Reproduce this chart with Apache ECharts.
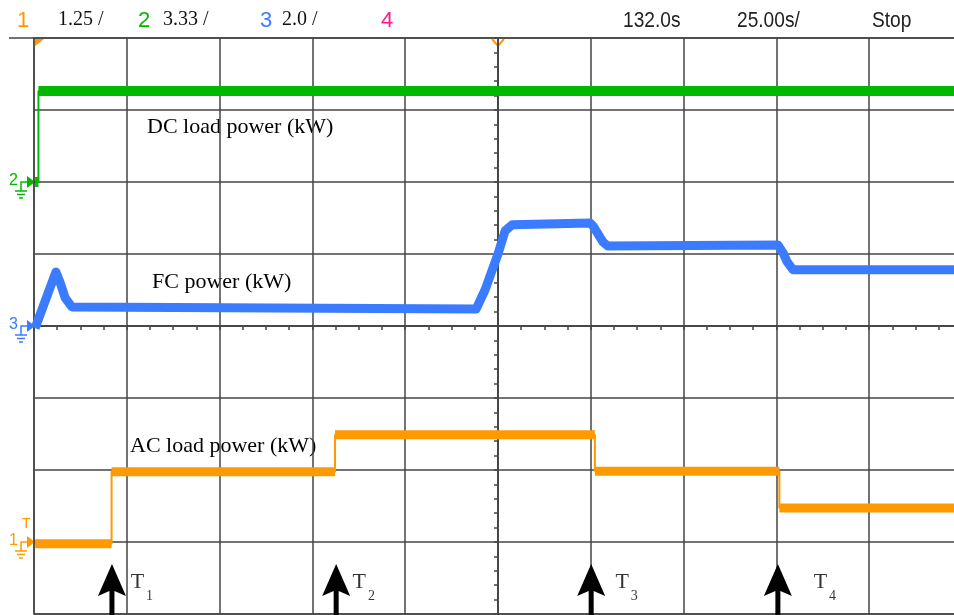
<!DOCTYPE html>
<html>
<head>
<meta charset="utf-8">
<script src="https://cdn.jsdelivr.net/npm/echarts@6/dist/echarts.min.js"></script>
<style>
  html, body { margin: 0; padding: 0; background: #fff; overflow: hidden; }
  /* the scope screen is 10 divisions wide, the picture cuts off its right edge */
  #chart { width: 964px; height: 615px; }
</style>
</head>
<body>
<div id="chart"></div>
<script>
// time in s relative to the trigger (centre of screen), 25 s/div
// channel 1: AC load power (kW), 1.25 kW/div
const acTime = [-124.7, -104.1, -104.1, -43.9, -43.9, 26.1, 26.1, 75.8, 75.8, 125];
const acPower = [-0.03, -0.03, 1.22, 1.22, 1.86, 1.86, 1.23, 1.23, 0.59, 0.59];
// channel 2: DC load power (kW), 3.33 kW/div
const dcTime = [-124.7, -123.8, -123.8, 125];
const dcPower = [0, 0, 4.21, 4.21];
// channel 3: FC power (kW), 2.0 kW/div
const fcTime = [-124.7, -119.1, -118.0, -116.6, -114.8, -5.9, -3.5, 0, 1.9, 3.8, 24.8, 25.6, 28.3, 29.6, 75.4, 76.8, 77.9, 79.5, 125];
const fcPower = [-0.06, 1.50, 1.22, 0.78, 0.53, 0.47, 1.00, 2.00, 2.64, 2.81, 2.86, 2.78, 2.33, 2.22, 2.25, 2.03, 1.78, 1.56, 1.56];

// events T1..T4
const eventNames = ['1', '2', '3', '4'];
const eventTime = [-104.0, -43.6, 25.1, 75.4];
const eventLabelTime = [-99.1, -39.3, 31.5, 84.9];

// scale (kW/div) and ground level (div from screen centre) per channel
const acScale = 1.25, acGround = -3;
const dcScale = 3.33, dcGround = 2;
const fcScale = 2.0, fcGround = 0;

const ORANGE = '#ff9900';
const GREEN = '#00b800';
const BLUE = '#3a7bff';
const GRIDC = '#454545';

// up arrow: head with a notched base and a shaft, top of the box is the tip
const ARROW = 'path://M14,0 L28,32 L16.5,27 L16.5,52 L11.5,52 L11.5,27 L0,32 Z';

const toDiv = (times, powers, scale, ground) =>
  times.map((t, i) => [t, ground + powers[i] / scale]);

// only the flat parts are drawn thick, steps stay thin
const flatParts = (pts) => {
  const out = [];
  for (let i = 0; i < pts.length - 1; i++) {
    if (pts[i][1] === pts[i + 1][1] && pts[i][0] !== pts[i + 1][0]) {
      out.push(pts[i], pts[i + 1], [pts[i + 1][0], null]);
    }
  }
  return out;
};

const acData = toDiv(acTime, acPower, acScale, acGround);
const dcData = toDiv(dcTime, dcPower, dcScale, dcGround);
const fcData = toDiv(fcTime, fcPower, fcScale, fcGround);

const chart = echarts.init(document.getElementById('chart'), null, { renderer: 'canvas' });

const serif = 'Liberation Serif, Times New Roman, serif';
const sans = 'Liberation Sans, Arial, sans-serif';

// channel ground markers on the left edge
const marker = (y, color, label) => [
  { type: 'text', left: 9, top: y - 9, style: { text: label, font: '16px ' + sans, fill: color } },
  { type: 'polygon', shape: { points: [[27, y - 6], [35, y], [27, y + 6]] }, style: { fill: color } },
  { type: 'polyline', shape: { points: [[27, y], [21, y], [21, y + 9]] }, style: { stroke: color, lineWidth: 1.5, fill: null } },
  { type: 'line', shape: { x1: 15, y1: y + 9, x2: 27, y2: y + 9 }, style: { stroke: color, lineWidth: 1.5 } },
  { type: 'line', shape: { x1: 17, y1: y + 12.5, x2: 25, y2: y + 12.5 }, style: { stroke: color, lineWidth: 1.5 } },
  { type: 'line', shape: { x1: 19, y1: y + 16, x2: 23, y2: y + 16 }, style: { stroke: color, lineWidth: 1.5 } }
];

const headerText = (x, text, color, font, sx) => ({
  type: 'text', x: x, y: 10, scaleX: sx || 1,
  style: { text: text, fill: color, font: font }
});

const axisCommon = {
  type: 'value',
  axisLabel: { show: false },
  axisLine: { onZero: true, lineStyle: { color: GRIDC, width: 1.5 } }
};

chart.setOption({
  animation: false,
  backgroundColor: '#fff',
  grid: {
    left: 34, top: 38, width: 928, height: 576,
    show: true, borderColor: GRIDC, borderWidth: 1.5, backgroundColor: '#fff'
  },
  xAxis: [
    Object.assign({}, axisCommon, {
      min: -125, max: 125, interval: 25,
      splitLine: { show: true, lineStyle: { color: GRIDC, width: 1.5 } },
      axisTick: { show: true, length: 4, lineStyle: { color: GRIDC, width: 1.5 } },
      minorTick: { show: true, splitNumber: 4, length: 4, lineStyle: { color: GRIDC, width: 1.5 } }
    }),
    Object.assign({}, axisCommon, {
      min: -125, max: 125, interval: 25,
      splitLine: { show: false },
      axisTick: { show: true, inside: true, length: 4, lineStyle: { color: GRIDC, width: 1.5 } },
      minorTick: { show: true, splitNumber: 4, length: 4, lineStyle: { color: GRIDC, width: 1.5 } }
    })
  ],
  yAxis: [
    Object.assign({}, axisCommon, {
      min: -4, max: 4, interval: 1,
      splitLine: { show: true, lineStyle: { color: GRIDC, width: 1.5 } },
      axisTick: { show: true, length: 4, lineStyle: { color: GRIDC, width: 1.5 } },
      minorTick: { show: true, splitNumber: 5, length: 4, lineStyle: { color: GRIDC, width: 1.5 } }
    }),
    Object.assign({}, axisCommon, {
      min: -4, max: 4, interval: 1,
      splitLine: { show: false },
      axisTick: { show: true, inside: true, length: 4, lineStyle: { color: GRIDC, width: 1.5 } },
      minorTick: { show: true, splitNumber: 5, length: 4, lineStyle: { color: GRIDC, width: 1.5 } }
    })
  ],
  series: [
    {
      name: 'DC load power', type: 'line', data: dcData, symbol: 'none',
      lineStyle: { color: GREEN, width: 2 }
    },
    {
      name: 'DC load power flat', type: 'line', data: flatParts(dcData), symbol: 'none',
      connectNulls: false, lineStyle: { color: GREEN, width: 10, cap: 'butt' }
    },
    {
      name: 'FC power', type: 'line', data: fcData, symbol: 'none',
      lineStyle: { color: BLUE, width: 9, join: 'round', cap: 'butt' }
    },
    {
      name: 'AC load power', type: 'line', data: acData, symbol: 'none',
      lineStyle: { color: ORANGE, width: 2 }
    },
    {
      name: 'AC load power flat', type: 'line', data: flatParts(acData), symbol: 'none',
      connectNulls: false, lineStyle: { color: ORANGE, width: 9, cap: 'butt' }
    },
    {
      name: 'event arrows', type: 'scatter', silent: true,
      symbol: ARROW, symbolSize: [28, 52], symbolOffset: [0, '50%'],
      itemStyle: { color: '#000', opacity: 1 },
      data: eventTime.map(t => [t, -3.306])
    },
    {
      name: 'event labels', type: 'scatter', symbolSize: 1, silent: true,
      itemStyle: { color: 'rgba(0,0,0,0)' },
      data: eventLabelTime.map(t => [t, -3.56]),
      label: {
        show: true, position: 'right', distance: 0,
        formatter: p => '{t|T}{s|' + eventNames[p.dataIndex] + '}',
        rich: {
          t: { fontSize: 22, fontFamily: serif, color: '#000' },
          s: { fontSize: 14, fontFamily: serif, color: '#000', padding: [28, 0, 0, 2] }
        }
      }
    }
  ],
  graphic: [
    // header separator left part and channel / time base readouts
    { type: 'line', shape: { x1: 9, y1: 38, x2: 34, y2: 38 }, style: { stroke: GRIDC, lineWidth: 1.5 } },
    headerText(17, '1', ORANGE, '22px ' + sans),
    headerText(58, '1.25 /', '#111', '20px ' + serif),
    headerText(138, '2', GREEN, '22px ' + sans),
    headerText(163, '3.33 /', '#111', '20px ' + serif),
    headerText(260, '3', BLUE, '22px ' + sans),
    headerText(282, '2.0 /', '#111', '20px ' + serif),
    headerText(381, '4', '#ff1a8c', '22px ' + sans),
    headerText(623, '132.0s', '#222', '22px ' + sans, 0.87),
    headerText(737, '25.00s/', '#222', '22px ' + sans, 0.87),
    headerText(872, 'Stop', '#222', '22px ' + sans, 0.87),
    // trigger position markers
    { type: 'polygon', shape: { points: [[34, 39], [44, 39], [34, 47]] }, style: { fill: ORANGE } },
    { type: 'polyline', shape: { points: [[492, 39], [498, 46], [504, 39]] }, style: { stroke: ORANGE, lineWidth: 2, fill: null } },
    // trace labels
    { type: 'text', left: 147, top: 116, style: { text: 'DC load power (kW)', font: '22px ' + serif, fill: '#000' } },
    { type: 'text', left: 152, top: 271, style: { text: 'FC power (kW)', font: '22px ' + serif, fill: '#000' } },
    { type: 'text', left: 130, top: 435, style: { text: 'AC load power (kW)', font: '22px ' + serif, fill: '#000' } },
    // trigger level marker
    { type: 'text', left: 22, top: 517, style: { text: 'T', font: '14px ' + sans, fill: ORANGE } }
  ].concat(marker(542, ORANGE, '1'), marker(182, GREEN, '2'), marker(326, BLUE, '3'))
});
</script>
</body>
</html>
